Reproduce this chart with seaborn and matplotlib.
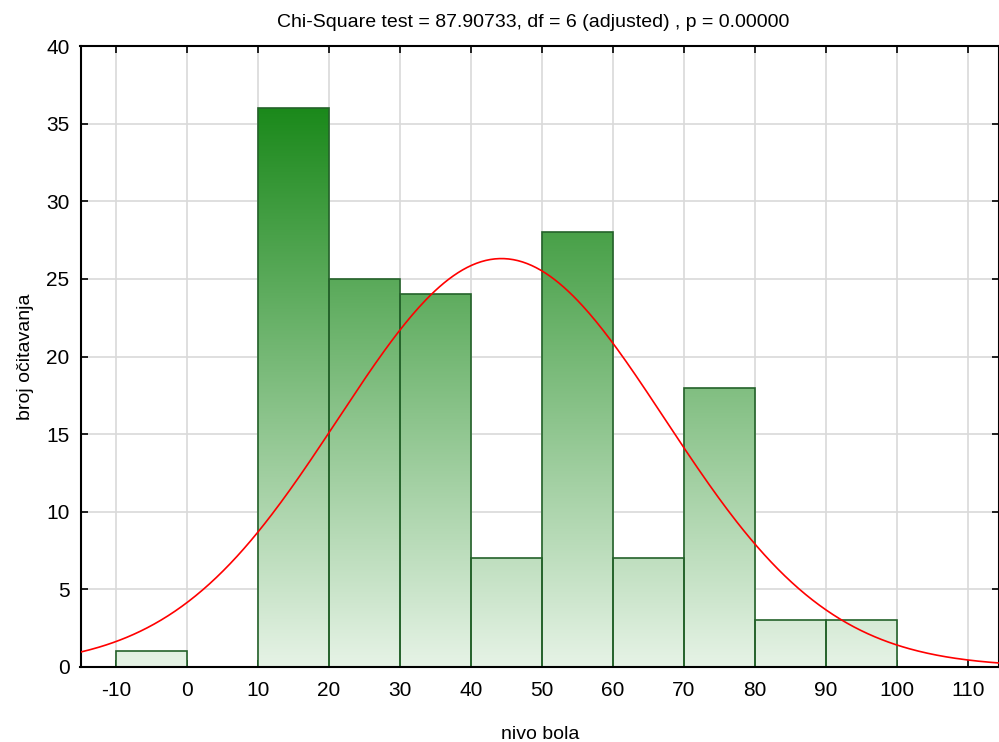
import numpy as np
import pandas as pd
import matplotlib
matplotlib.use("Agg")
import matplotlib.pyplot as plt
from matplotlib.colors import LinearSegmentedColormap
import seaborn as sns

# Histogram of pain level readings (bins of width 10)
bin_edges = [-10, 0, 10, 20, 30, 40, 50, 60, 70, 80, 90, 100]
counts = [1, 0, 36, 25, 24, 7, 28, 7, 18, 3, 3]

# Fitted normal curve parameters
fit_mean = 44.3
fit_sd = 23.05

title = "Chi-Square test = 87.90733, df = 6 (adjusted) , p = 0.00000"
x_label = "nivo bola"
y_label = "broj očitavanja"
x_ticks = [-10, 0, 10, 20, 30, 40, 50, 60, 70, 80, 90, 100, 110]
y_ticks = [0, 5, 10, 15, 20, 25, 30, 35, 40]

sns.set_theme(style="white")
plt.rcParams["font.family"] = ["Liberation Sans", "DejaVu Sans"]
plt.rcParams["axes.unicode_minus"] = False
plt.rcParams["text.color"] = "black"
plt.rcParams["axes.labelcolor"] = "black"
plt.rcParams["xtick.color"] = "black"
plt.rcParams["ytick.color"] = "black"

fig = plt.figure(figsize=(9.99, 7.42), dpi=100)
ax = fig.add_axes([80.5 / 999, 1 - 667 / 742, (999 - 80.5) / 999, (667 - 46) / 742])

centers = [(a + b) / 2 for a, b in zip(bin_edges[:-1], bin_edges[1:])]
df = pd.DataFrame({"x": centers, "n": counts})
sns.histplot(data=df, x="x", weights="n", bins=bin_edges, ax=ax,
             facecolor="none", edgecolor="#24622a", linewidth=1.2, alpha=1)

ymin, ymax = 0, 40
xmin, xmax = -15, 114.4

# vertical green gradient shared by all bars
cmap = LinearSegmentedColormap.from_list(
    "grn", [(0.0, "#e6f3e6"), (36 / 40, "#1b891b"), (1.0, "#107010")])
grad = np.linspace(0, 1, 256).reshape(-1, 1)
for p in list(ax.patches):
    if p.get_height() <= 0:
        continue
    im = ax.imshow(grad, cmap=cmap, aspect="auto", origin="lower",
                   extent=[xmin, xmax, ymin, ymax], zorder=p.get_zorder() - 0.1,
                   interpolation="bilinear")
    im.set_clip_path(p)

# normal curve scaled to counts
xs = np.linspace(xmin, xmax, 400)
total = sum(counts)
width = bin_edges[1] - bin_edges[0]
ys = total * width / (fit_sd * np.sqrt(2 * np.pi)) * np.exp(-0.5 * ((xs - fit_mean) / fit_sd) ** 2)
sns.lineplot(x=xs, y=ys, color="red", linewidth=1.2, ax=ax, zorder=5)

ax.set_xlim(xmin, xmax)
ax.set_ylim(ymin, ymax)
ax.set_xticks(x_ticks)
ax.set_yticks(y_ticks)
ax.grid(True, color="#d9d9d9", linewidth=1.2)
ax.set_axisbelow(True)
ax.tick_params(direction="in", length=5, width=1.2, color="black",
               top=True, right=True, bottom=True, left=True,
               labelsize=15, pad=8)
ax.tick_params(axis="x", pad=10)
for s in ax.spines.values():
    s.set_visible(True)
    s.set_color("black")
    s.set_linewidth(1.5)

ax.set_title(title, fontsize=14, pad=14, x=0.4925)
ax.set_xlabel(x_label, fontsize=14, labelpad=19)
ax.set_ylabel(y_label, fontsize=14, labelpad=9)

fig.savefig("out.png", dpi=100)
